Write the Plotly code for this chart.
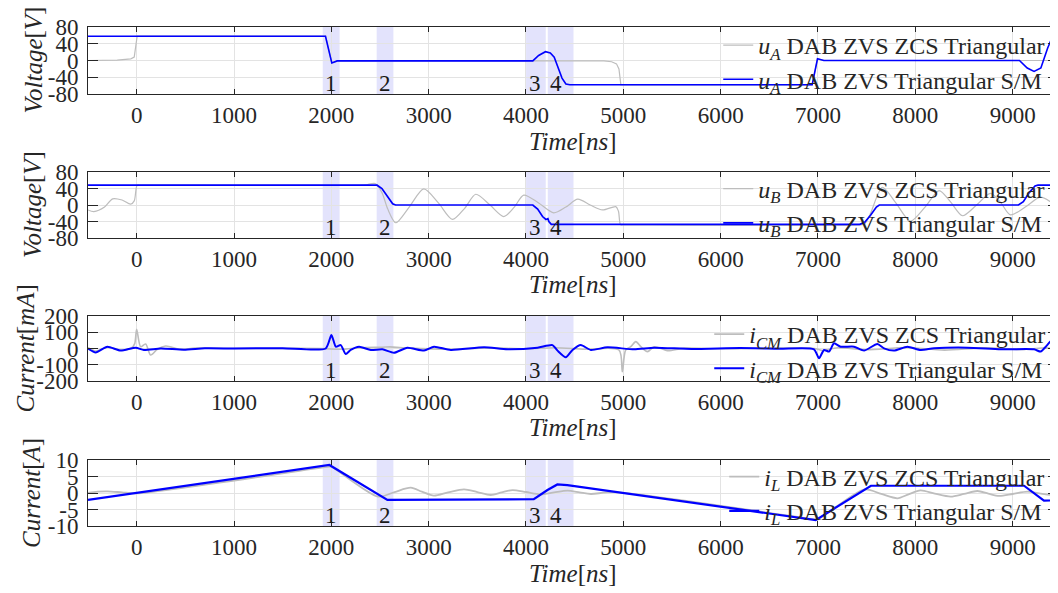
import plotly.graph_objects as go

FONT = "Liberation Serif"

# ---------------- data ----------------
x_ticks = [0, 1000, 2000, 3000, 4000, 5000, 6000, 7000, 8000, 9000]
x_ticklabels = ["0", "1000", "2000", "3000", "4000", "5000", "6000", "7000", "8000", "9000"]

# highlighted switching intervals [start, end] in ns
region_start = [1912, 2466, 4001, 4224]
region_end = [2085, 2638, 4203, 4488]
region_label = ["1", "2", "3", "4"]
region_label_t = [1994, 2549, 4090, 4306]

# u_A
t_uA_zcs = [-500, -200, -60, -25, 5, 1940, 2005, 2060, 4800, 4880, 4930, 4955, 4975, 6940, 6995, 7060, 9500]
uA_zcs = [0, 1, 4, 8, 58, 58, -6, -1, -1, -3, -8, -20, -58, -58, 4, 0, 0]
t_uA_sm = [-500, 1940, 2005, 2060, 4070, 4130, 4200, 4250, 4290, 4330, 4370, 4410, 4450,
           6940, 6995, 7060, 9070, 9150, 9220, 9290, 9360, 9410, 9500]
uA_sm = [58, 58, -6, -1, -1, 12, 21, 18, 8, -15, -42, -56, -58,
         -58, 4, 0, 0, -18, -26, -18, 30, 57, 58]

# u_B
t_uB_zcs = [-500, -440, -330, -247, -150, -62, -25, 5, 40, 2300, 2360, 2450, 2520, 2580, 2662, 2800,
            2950, 3100, 3244, 3370, 3484, 3630, 3772, 3880, 3977, 4130, 4285, 4410, 4532, 4660, 4786,
            4923, 4950, 4972, 5010, 7440, 7480, 7540, 7662, 7800, 7950, 8100, 8244, 8360, 8484, 8630,
            8772, 8880, 8977, 9130, 9285, 9410, 9500]
uB_zcs = [-12, -16, -5, 15, 12, 2, 10, 48, 48, 48, 49, 52, 30, -10, -43, -5,
          39, 5, -35, -8, 26, 0, -28, -5, 24, 5, -19, -5, 14, 0, -12,
          -4, -15, -48, -48, -48, -46, -20, 43, 5, -39, -5, 35, 8, -26, 0,
          28, 5, -24, -5, 19, 5, -8]
t_uB_sm = [-500, 2470, 2520, 2580, 2630, 2660, 4070, 4120, 4170, 4205, 4225, 4235, 4260,
           7430, 7480, 7540, 7600, 7630, 9060, 9110, 9170, 9230, 9260, 9500]
uB_sm = [48, 48, 40, 20, 3, 0, 0, -10, -28, -35, -33, -40, -47,
         -47, -42, -25, -5, 0, 0, 8, 30, 46, 48, 48]

# i_CM
t_icm_zcs = [-500, -420, -300, -160, -50, -20, 0, 41, 92, 144, 213, 298, 452, 600, 1000, 1900, 2100,
             2300, 2525, 2600, 2800, 3200, 3600, 4000, 4300, 4600, 4955, 4990, 5024, 5077, 5128,
             5180, 5248, 5317, 5453, 5625, 6000, 6500, 6960, 7050, 7200, 7500, 7900, 8300, 8700,
             9100, 9300, 9500]
icm_zcs = [5, -15, 8, -10, 5, 30, 118, 11, 28, -40, -5, 15, -5, 2, 0, 0, -5,
           5, 8, 10, 2, -5, 4, -2, 5, -5, -9, -143, -9, 11, 42,
           11, -19, 11, -13, 2, -2, 2, 0, -12, 5, -8, 6, -10, 4,
           -6, 3, 0]
t_icm_sm = [-500, -421, -301, -164, -10, 74, 247, 485, 700, 1000, 1500, 1942, 2001, 2046, 2097, 2148,
            2199, 2285, 2405, 2525, 2644, 2781, 2953, 3055, 3227, 3570, 3810, 4118, 4272, 4324,
            4409, 4478, 4563, 4666, 4837, 5111, 5317, 5700, 6200, 6600, 6959, 7011, 7062, 7114,
            7165, 7233, 7370, 7473, 7610, 7679, 7781, 7918, 8055, 8192, 8535, 8877, 9220, 9288,
            9340, 9408, 9459, 9500]
icm_sm = [0, -24, 11, -13, 5, -9, 0, -7, 1, 0, 2, 0, 83, 11, 21, -34,
          -9, 11, -9, -5, -26, 5, -13, 11, -9, 7, -5, 5, 21, -13,
          -54, -9, 21, -9, 7, -5, 5, -3, 3, -2, -5, -60, -9, -19,
          32, 11, 11, -13, 28, 1, -13, 11, -9, 1, 5, -5, -5, -19,
          11, 52, 2, 0]

# i_L
t_iL_zcs = [-500, -400, -300, -150, 0, 1980, 2000, 2480, 2650, 2816, 2930, 3053, 3200, 3363, 3500,
            3638, 3750, 3861, 4000, 4152, 4290, 4427, 4550, 4666, 4900, 6976, 7000, 7480, 7650,
            7816, 7930, 8053, 8200, 8363, 8500, 8638, 8750, 8861, 9000, 9152, 9290, 9427, 9500]
iL_zcs = [0.0, 0.4, 0.5, 0.2, -0.1, 8.0, 8.0, -1.1, 0.3, 1.6, 0.4, -0.8, 0.2, 1.1, 0.3,
          -0.6, 0.2, 0.9, 0.3, -0.4, 0.2, 0.7, 0.2, -0.3, 0.25, -8.0, -8.0, 1.1, -0.3,
          -1.6, -0.4, 0.8, -0.2, -1.1, -0.3, 0.6, -0.2, -0.9, -0.3, 0.4, -0.2, -0.7, -0.4]
t_iL_sm = [-500, 0, 1980, 2576, 4080, 4221, 4322, 4425, 6976, 7544, 9117, 9322, 9500]
iL_sm = [-2.1, 0, 8.5, -2.1, -1.9, 0.9, 2.6, 2.4, -8.2, 2.2, 2.2, -2.3, -2.2]

# y-axis settings per panel
y_ranges = [[-80, 80], [-80, 80], [-200, 200], [-10, 10]]
y_ticks = [[-80, -40, 0, 40, 80], [-80, -40, 0, 40, 80], [-200, -100, 0, 100, 200], [-10, -5, 0, 5, 10]]
y_ticklabels = [["-80", "-40", "0", "40", "80"], ["-80", "-40", "0", "40", "80"],
                ["-200", "-100", "0", "100", "200"], ["-10", "-5", "0", "5", "10"]]
y_titles = ["<i>Voltage</i>[<i>V</i>]", "<i>Voltage</i>[<i>V</i>]",
            "<i>Current</i>[<i>mA</i>]", "<i>Current</i>[<i>A</i>]"]
sym = ["<i>u</i><sub><i>A</i></sub>", "<i>u</i><sub><i>B</i></sub>",
       "<i>i</i><sub><i>CM</i></sub>", "<i>i</i><sub><i>L</i></sub>"]
name_zcs = " DAB ZVS ZCS Triangular"
name_sm = " DAB ZVS Triangular S/M"

series = [
    (t_uA_zcs, uA_zcs, t_uA_sm, uA_sm),
    (t_uB_zcs, uB_zcs, t_uB_sm, uB_sm),
    (t_icm_zcs, icm_zcs, t_icm_sm, icm_sm),
    (t_iL_zcs, iL_zcs, t_iL_sm, iL_sm),
]

# ---------------- layout geometry (page px; the page body has an 8 px margin) ----------------
OFF = 8
W = 1058 - OFF
H = 593 - OFF
PLOT_LEFT = 88
px_top = [27, 172, 316, 460]
px_bot = [94, 238, 381, 526]
legend_center_px = [62.5, 206, 351.5, 494]
ytitle_px = [33, 33, 25, 31]
gray_w = [1.2, 1.2, 1.6, 1.8]
blue_w = [1.6, 1.7, 2.0, 2.2]
gray_shape = ["linear", "spline", "spline", "spline"]
blue_shape = ["linear", "linear", "spline", "linear"]

fig = go.Figure()
layout = dict(
    width=W, height=H, autosize=False,
    margin=dict(l=PLOT_LEFT - OFF, r=0, t=0, b=0, pad=0, autoexpand=False),
    paper_bgcolor="white", plot_bgcolor="white",
    font=dict(family=FONT, size=23, color="#262626"),
    shapes=[], annotations=[],
)

for i in range(4):
    n = i + 1
    xs = "" if n == 1 else str(n)
    leg = "legend" if n == 1 else f"legend{n}"
    tz, vz, ts, vs = series[i]
    fig.add_trace(go.Scatter(x=tz, y=vz, mode="lines", name=sym[i] + name_zcs,
                             line=dict(color="#bdbdbd", width=gray_w[i], shape=gray_shape[i], smoothing=0.8),
                             xaxis="x" + xs, yaxis="y" + xs, legend=leg))
    fig.add_trace(go.Scatter(x=ts, y=vs, mode="lines", name=sym[i] + name_sm,
                             line=dict(color="#0000ff", width=blue_w[i], shape=blue_shape[i], smoothing=0.6),
                             xaxis="x" + xs, yaxis="y" + xs, legend=leg))
    dom = [1 - (px_bot[i] - OFF) / H, 1 - (px_top[i] - OFF) / H]
    layout["xaxis" + xs] = dict(
        domain=[0, 1], anchor="y" + xs, range=[-500, 9466], automargin=False,
        tickvals=x_ticks, ticktext=x_ticklabels, ticks="inside", ticklen=5,
        tickcolor="#262626", mirror="ticks", showline=True, linecolor="#262626",
        linewidth=1, showgrid=True, gridcolor="#e3e3e3", zeroline=False,
        tickfont=dict(family=FONT, size=23, color="#262626"),
    )
    layout["yaxis" + xs] = dict(
        domain=dom, anchor="x" + xs, range=y_ranges[i], automargin=False,
        tickvals=y_ticks[i], ticktext=y_ticklabels[i], ticks="inside", ticklen=10,
        tickcolor="#262626", mirror="ticks", showline=True, linecolor="#262626",
        linewidth=1, showgrid=True, gridcolor="#e3e3e3", zeroline=False,
        tickfont=dict(family=FONT, size=23, color="#262626"), ticklabelstandoff=4,
    )
    layout[leg] = dict(
        x=0.992, xanchor="right", y=1 - (legend_center_px[i] - OFF) / H, yanchor="middle",
        bgcolor="rgba(0,0,0,0)", borderwidth=0, tracegroupgap=0,
        font=dict(family=FONT, size=24, color="#262626"), itemwidth=30,
    )
    for s, e in zip(region_start, region_end):
        layout["shapes"].append(dict(
            type="rect", xref="x" + xs, yref=f"y{xs} domain", x0=s, x1=e, y0=0, y1=1,
            fillcolor="rgba(40,40,230,0.13)", line=dict(width=0), layer="below"))
    for lab, tl in zip(region_label, region_label_t):
        layout["annotations"].append(dict(
            text=lab, xref="x" + xs, yref=f"y{xs} domain", x=tl, y=0,
            xanchor="center", yanchor="bottom", yshift=-4, showarrow=False,
            font=dict(family=FONT, size=23, color="#1a1a1a")))
    # axis titles
    layout["annotations"].append(dict(
        text=y_titles[i], xref="paper", yref=f"y{xs} domain", x=0, y=0.5,
        xshift=ytitle_px[i] - PLOT_LEFT, xanchor="center", yanchor="middle", textangle=-90,
        showarrow=False, font=dict(family=FONT, size=25, color="#262626")))
    layout["annotations"].append(dict(
        text="<i>Time</i>[<i>ns</i>]", xref="paper", yref=f"y{xs} domain", x=0.5, y=0,
        yshift=-47, xanchor="center", yanchor="middle", showarrow=False,
        font=dict(family=FONT, size=25, color="#262626")))

fig.update_layout(**layout)
fig.write_html("out.html")
